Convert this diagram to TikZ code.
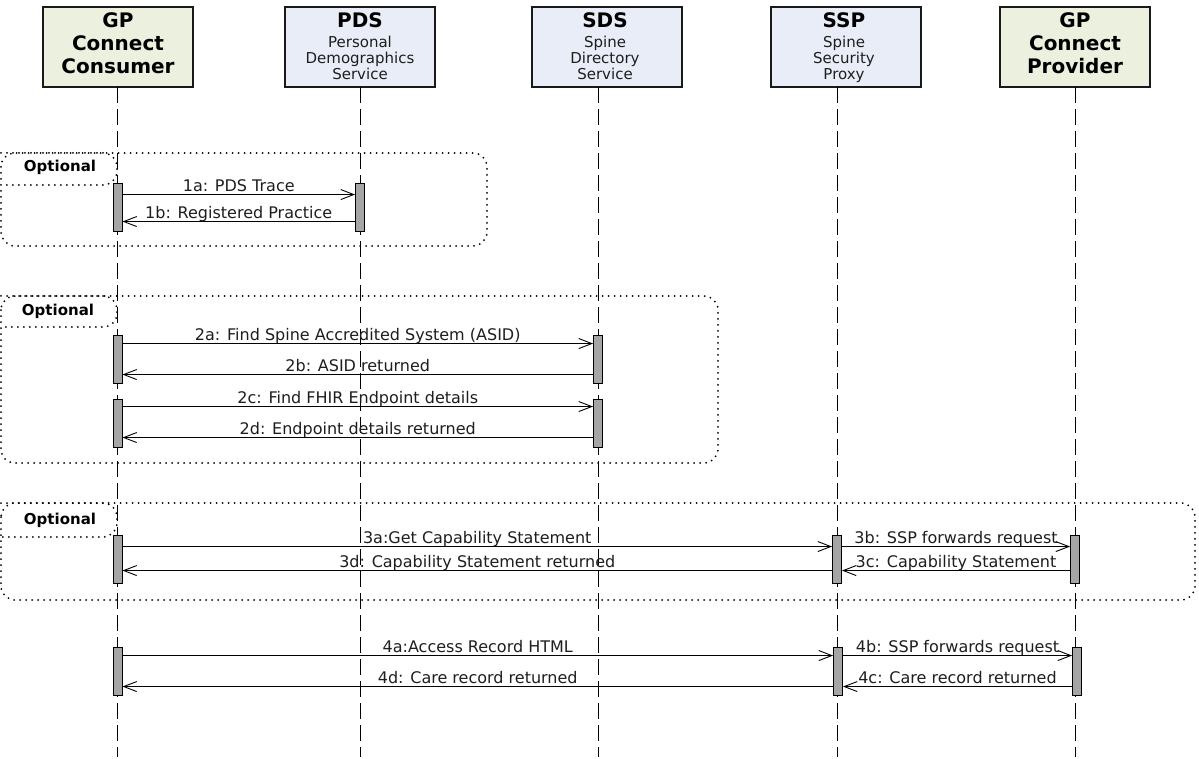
\documentclass[tikz,border=0pt]{standalone}
\usepackage{fontspec}
\setmainfont{DejaVu Sans}
\usetikzlibrary{arrows.meta,calc}
\definecolor{gfill}{HTML}{EBF1DE}
\definecolor{bfill}{HTML}{E9EDF7}
\definecolor{barfill}{HTML}{A5A5A5}
\definecolor{txt}{HTML}{1E1E1E}
\begin{document}
\begin{tikzpicture}[x=1pt,y=-1pt,
  hdr/.style={draw=black!90, line width=1.2pt, minimum width=150pt, minimum height=80pt, inner sep=0pt},
  gbox/.style={hdr, fill=gfill},
  bbox/.style={hdr, fill=bfill},
  life/.style={draw=black, line width=0.9pt, dash pattern=on 16pt off 6pt},
  bar/.style={draw=black, line width=0.9pt, fill=barfill, minimum width=9pt, minimum height=48pt, inner sep=0pt},
  msg/.style={draw=black, line width=0.9pt, -{Straight Barb[length=13pt,width=10pt,line width=0.9pt]}},
  lbl/.style={font=\fontsize{16}{19}\selectfont, text=txt, inner sep=0pt, anchor=base, midway, yshift=3pt},
  frm/.style={draw=black, line width=2pt, line cap=round, dash pattern=on 0pt off 6pt, rounded corners=14pt},
  ttl/.style={font=\bfseries\fontsize{20}{23}\selectfont, text=black, anchor=base, inner sep=0pt},
  sub/.style={font=\fontsize{15}{16}\selectfont, text=txt, anchor=base, inner sep=0pt},
  opt/.style={font=\bfseries\fontsize{15}{18}\selectfont, text=black, anchor=base, inner sep=0pt}
]
\fill[white] (0,0) rectangle (1199,759);
\useasboundingbox (0,0) rectangle (1199,759);

% ---------- optional frames ----------
\draw[frm] (1,153) rectangle (487,246);
\draw[frm] (1,153) -- (117,153) -- (117,185) -- (1,185);
\node[opt] (o1) at (60,172) {Optional};
\draw[frm] (1,296) rectangle (718,463);
\draw[frm] (1,296) -- (117,296) -- (117,327) -- (1,327);
\node[opt] (o2) at (58,316) {Optional};
\draw[frm] (1,503) rectangle (1195,600);
\draw[frm] (1,503) -- (117,503) -- (117,537) -- (1,537);
\node[opt] (o3) at (60,524) {Optional};

% ---------- headers ----------
\node[gbox] (cons) at (118,47) {};
\node[ttl] (consA) at (118,28) {GP};
\node[ttl] (consB) at (118,51) {Connect};
\node[ttl] (consC) at (118,74) {Consumer};

\node[bbox] (pds) at (360,47) {};
\node[ttl] (pdsA) at (360,28) {PDS};
\node[sub] (pdsB) at (360,48) {Personal};
\node[sub] (pdsC) at (360,64) {Demographics};
\node[sub] (pdsD) at (360,80) {Service};

\node[bbox] (sds) at (607,47) {};
\node[ttl] (sdsA) at (605,28) {SDS};
\node[sub] (sdsB) at (605,48) {Spine};
\node[sub] (sdsC) at (605,64) {Directory};
\node[sub] (sdsD) at (605,80) {Service};

\node[bbox] (ssp) at (846,47) {};
\node[ttl] (sspA) at (844,28) {SSP};
\node[sub] (sspB) at (844,48) {Spine};
\node[sub] (sspC) at (844,64) {Security};
\node[sub] (sspD) at (844,80) {Proxy};

\node[gbox] (prov) at (1075,47) {};
\node[ttl] (provA) at (1075,28) {GP};
\node[ttl] (provB) at (1075,51) {Connect};
\node[ttl] (provC) at (1075,74) {Provider};

% ---------- lifelines ----------
\coordinate (consT) at (117,87);  \coordinate (consE) at (117,757);
\coordinate (pdsT)  at (360,87);  \coordinate (pdsE)  at (360,757);
\coordinate (sdsT)  at (598,87);  \coordinate (sdsE)  at (598,757);
\coordinate (sspT)  at (837,87);  \coordinate (sspE)  at (837,757);
\coordinate (provT) at (1075,87); \coordinate (provE) at (1075,757);
\draw[life] (consT) -- (consE);
\draw[life] (pdsT) -- (pdsE);
\draw[life] (sdsT) -- (sdsE);
\draw[life] (sspT) -- (sspE);
\draw[life] (provT) -- (provE);

% ---------- activation bars ----------
\node[bar] (c1) at (117.5,207) {};
\node[bar] (p1) at (360,207) {};
\node[bar] (c2) at (117.5,359) {};
\node[bar] (s2) at (598,359) {};
\node[bar] (c3) at (117.5,423) {};
\node[bar] (s3) at (598,423) {};
\node[bar] (c4) at (117.5,559) {};
\node[bar] (x4) at (837,559) {};
\node[bar] (g4) at (1075,559) {};
\node[bar] (c5) at (117.5,671) {};
\node[bar] (x5) at (838,671) {};
\node[bar] (g5) at (1077,671) {};

% ---------- messages ----------
\draw[msg] ($(c1.north east)+(0,12)$) -- ($(p1.north west)+(0,12)$) node[lbl] {1a: PDS Trace};
\draw[msg] ($(p1.north west)+(0,39)$) -- ($(c1.north east)+(0,39)$) node[lbl] {1b: Registered Practice};

\draw[msg] ($(c2.north east)+(0,9)$) -- ($(s2.north west)+(0,9)$) node[lbl] {2a: Find Spine Accredited System (ASID)};
\draw[msg] ($(s2.north west)+(0,40)$) -- ($(c2.north east)+(0,40)$) node[lbl] {2b: ASID returned};
\draw[msg] ($(c3.north east)+(0,8)$) -- ($(s3.north west)+(0,8)$) node[lbl] {2c: Find FHIR Endpoint details};
\draw[msg] ($(s3.north west)+(0,39)$) -- ($(c3.north east)+(0,39)$) node[lbl] {2d: Endpoint details returned};

\draw[msg] ($(c4.north east)+(0,12)$) -- ($(x4.north west)+(0,12)$) node[lbl] {3a:Get Capability Statement};
\draw[msg] ($(x4.north east)+(0,12)$) -- ($(g4.north west)+(0,12)$) node[lbl] {3b: SSP forwards request};
\draw[msg] ($(g4.north west)+(0,36)$) -- ($(x4.north east)+(0,36)$) node[lbl] {3c: Capability Statement};
\draw[msg] ($(x4.north west)+(0,36)$) -- ($(c4.north east)+(0,36)$) node[lbl] {3d: Capability Statement returned};

\draw[msg] ($(c5.north east)+(0,9)$) -- ($(x5.north west)+(0,9)$) node[lbl] {4a:Access Record HTML};
\draw[msg] ($(x5.north east)+(0,9)$) -- ($(g5.north west)+(0,9)$) node[lbl] {4b: SSP forwards request};
\draw[msg] ($(g5.north west)+(0,40)$) -- ($(x5.north east)+(0,40)$) node[lbl] {4c: Care record returned};
\draw[msg] ($(x5.north west)+(0,40)$) -- ($(c5.north east)+(0,40)$) node[lbl] {4d: Care record returned};
\end{tikzpicture}
\end{document}
